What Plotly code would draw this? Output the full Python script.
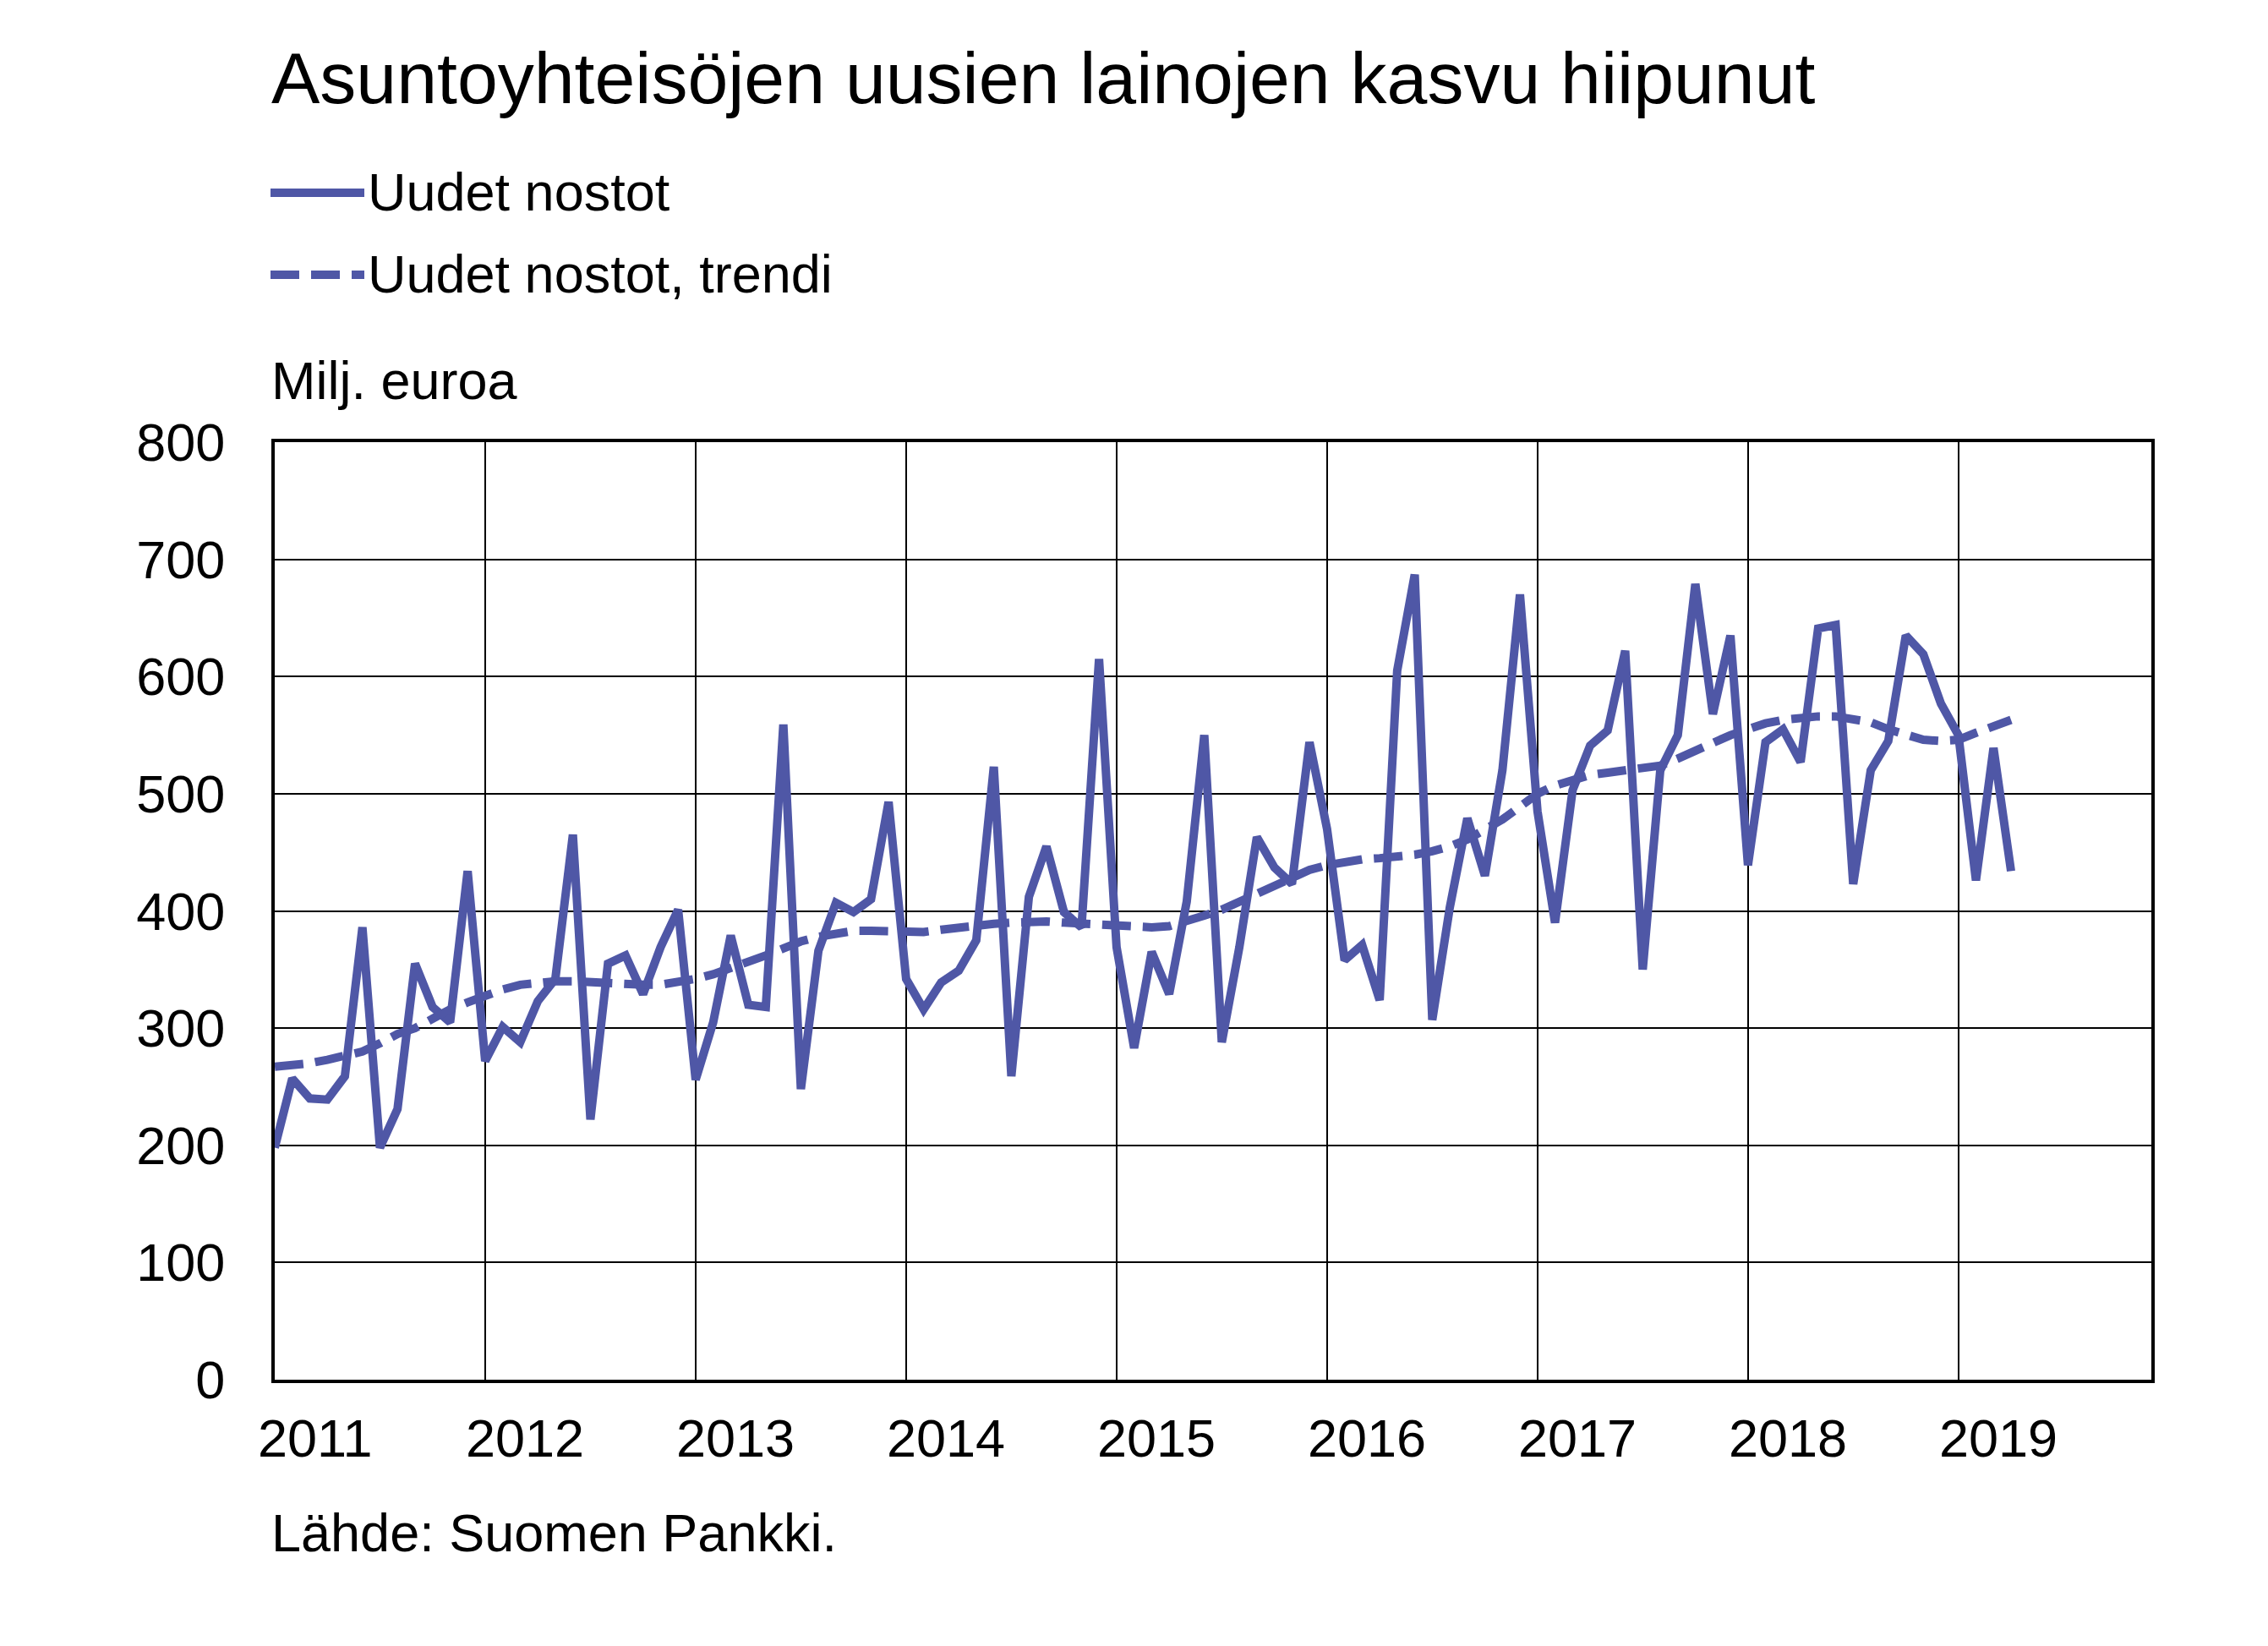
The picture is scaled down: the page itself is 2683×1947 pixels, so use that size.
import plotly.graph_objects as go

# ---- data ----
start_year = 2011
uudet_nostot = [198, 257, 240, 239, 259, 386, 198, 231, 355, 318, 305, 434,
                272, 301, 288, 323, 342, 465, 222, 355, 362, 329, 369, 401,
                256, 305, 379, 320, 318, 559, 248, 366, 407, 399, 410, 493,
                342, 316, 339, 349, 375, 523, 259, 412, 455, 399, 386, 615,
                369, 283, 365, 329, 408, 550, 288, 369, 463, 437, 423, 544,
                470, 358, 371, 324, 605, 687, 307, 403, 479, 430, 520, 670,
                485, 390, 503, 541, 554, 622, 350, 520, 550, 679, 568, 635,
                439, 544, 555, 527, 641, 644, 423, 520, 545, 635, 619, 577,
                550, 426, 539, 434]
trendi = [267, 268, 270, 273, 276, 280, 287, 295, 300, 309, 316, 322,
          328, 333, 337, 339, 340, 340, 339, 338, 337, 337, 337, 339,
          342, 346, 351, 356, 362, 368, 374, 378, 381, 383, 383, 383,
          382, 382, 384, 386, 387, 389, 390, 391, 391, 390, 389, 388,
          387, 386, 386, 387, 391, 396, 401, 408, 415, 422, 429, 435,
          439, 442, 444, 445, 446, 448, 451, 455, 461, 469, 478, 489,
          500, 507, 512, 516, 518, 520, 521, 524, 530, 537, 543, 550,
          555, 560, 563, 565, 566, 566, 564, 561, 555, 550, 546, 545,
          546, 552, 557, 563]
years = [2011, 2012, 2013, 2014, 2015, 2016, 2017, 2018, 2019]
year_labels = [str(y) for y in years]
y_ticks = [0, 100, 200, 300, 400, 500, 600, 700, 800]

x_vals = [start_year + i / 12 for i in range(len(uudet_nostot))]

COLOR = "#4F57A6"
FONT = "Liberation Sans, Arial, sans-serif"
OFF = 8  # default page body margin
W, H = 2683 - 2 * OFF, 1947 - 2 * OFF
# plot-area edges in window pixels
L, R, T, B = 325, 2545, 523, 1632
PW, PH = R - L, B - T
LW = 10
DASH = "34px,14px"
FS = 63


def px(x):
    return (x - L) / PW


def py(y):
    return (B - y) / PH


fig = go.Figure()
fig.add_trace(go.Scatter(x=x_vals, y=uudet_nostot, mode="lines",
                         name="Uudet nostot",
                         line=dict(color=COLOR, width=LW)))
fig.add_trace(go.Scatter(x=x_vals, y=trendi, mode="lines",
                         name="Uudet nostot, trendi",
                         line=dict(color=COLOR, width=LW, dash=DASH)))

annotations = []
annotations.append(dict(text="Asuntoyhteisöjen uusien lainojen kasvu hiipunut",
                        xref="paper", yref="paper", x=px(319), y=py(92),
                        xanchor="left", yanchor="middle", showarrow=False,
                        font=dict(size=86, color="black", family=FONT)))
annotations.append(dict(text="Uudet nostot", xref="paper", yref="paper",
                        x=px(433), y=py(227), xanchor="left", yanchor="middle",
                        showarrow=False, font=dict(size=FS, color="black", family=FONT)))
annotations.append(dict(text="Uudet nostot, trendi", xref="paper", yref="paper",
                        x=px(433), y=py(324), xanchor="left", yanchor="middle",
                        showarrow=False, font=dict(size=FS, color="black", family=FONT)))
annotations.append(dict(text="Milj. euroa", xref="paper", yref="paper",
                        x=px(319), y=py(450), xanchor="left", yanchor="middle",
                        showarrow=False, font=dict(size=FS, color="black", family=FONT)))
annotations.append(dict(text="Lähde: Suomen Pankki.", xref="paper", yref="paper",
                        x=px(319), y=py(1813), xanchor="left", yanchor="middle",
                        showarrow=False, font=dict(size=FS, color="black", family=FONT)))
for yr, lab in zip(years, year_labels):
    annotations.append(dict(text=lab, xref="x", yref="paper", x=yr + 0.19,
                            y=py(1701), xanchor="center", yanchor="middle",
                            showarrow=False,
                            font=dict(size=FS, color="black", family=FONT)))

shapes = [
    dict(type="line", xref="paper", yref="paper", x0=px(320), x1=px(431),
         y0=py(228), y1=py(228), line=dict(color=COLOR, width=LW)),
    dict(type="line", xref="paper", yref="paper", x0=px(320), x1=px(431),
         y0=py(325), y1=py(325), line=dict(color=COLOR, width=LW, dash=DASH)),
]

fig.update_layout(
    width=W, height=H,
    margin=dict(l=L - OFF, r=W - (R - OFF), t=T - OFF, b=H - (B - OFF), pad=0),
    paper_bgcolor="white", plot_bgcolor="white",
    showlegend=False,
    annotations=annotations,
    shapes=shapes,
    font=dict(family=FONT, color="black", size=FS),
)
fig.update_xaxes(range=[2011, 2019 + 11 / 12], tickvals=years[1:],
                 showticklabels=False, showgrid=True, gridcolor="black",
                 gridwidth=1.5, showline=True, linecolor="black", linewidth=4,
                 mirror=True, zeroline=False, ticks="")
fig.update_yaxes(range=[0, 800], tickvals=y_ticks, showgrid=True,
                 gridcolor="black", gridwidth=1.5, showline=True,
                 linecolor="black", linewidth=4, mirror=True, zeroline=False,
                 ticks="", ticklabelstandoff=42,
                 tickfont=dict(size=FS, family=FONT, color="black"))

fig.write_html("out.html")
